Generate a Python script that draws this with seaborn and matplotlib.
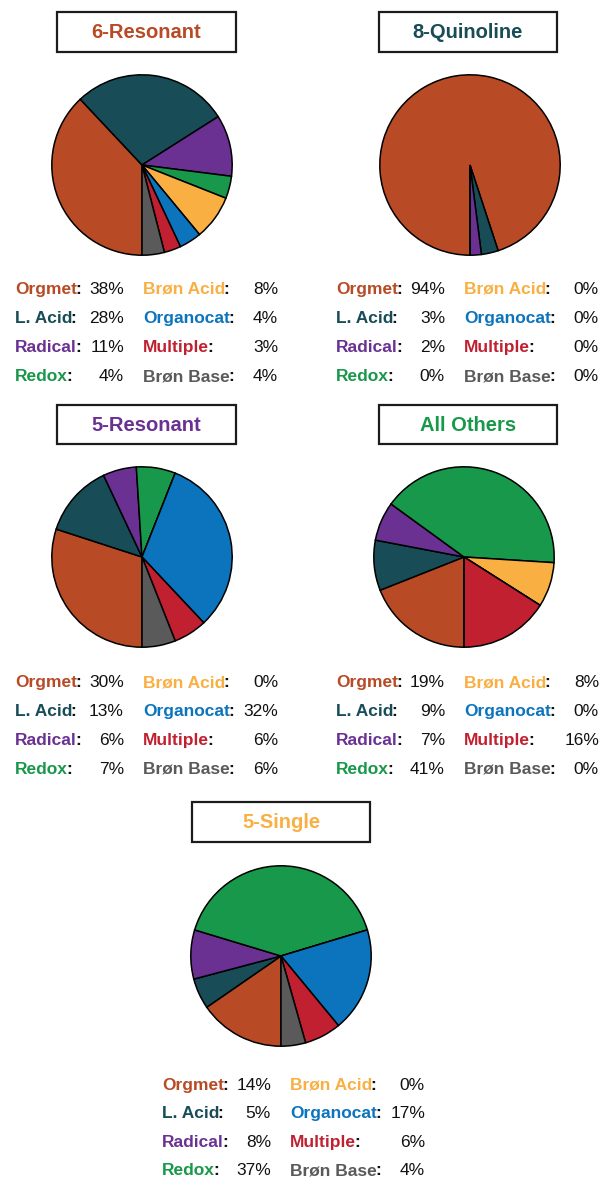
import matplotlib
matplotlib.use("Agg")
import matplotlib.pyplot as plt
import seaborn as sns
from matplotlib.patches import Rectangle

# ---------------- data ----------------
categories = ["Orgmet", "L. Acid", "Radical", "Redox",
              "Brøn Acid", "Organocat", "Multiple", "Brøn Base"]
category_colors = ["#B84A26", "#184C57", "#6A3193", "#18984A",
                   "#F9AF42", "#0C74BD", "#C0202F", "#5A5A5A"]

groups = ["6-Resonant", "8-Quinoline", "5-Resonant", "All Others", "5-Single"]
group_title_colors = ["#B84A26", "#184C57", "#6A3193", "#18984A", "#F9AF42"]

six_resonant = [38, 28, 11, 4, 8, 4, 3, 4]
eight_quinoline = [94, 3, 2, 0, 0, 0, 0, 0]
five_resonant = [30, 13, 6, 7, 0, 32, 6, 6]
all_others = [19, 9, 7, 41, 8, 0, 16, 0]
five_single = [14, 5, 8, 37, 0, 17, 6, 4]
group_values = [six_resonant, eight_quinoline, five_resonant, all_others, five_single]

# ---------------- style ----------------
sns.set_theme(style="white")
plt.rcParams["font.family"] = ["Liberation Sans", "DejaVu Sans"]
palette = sns.color_palette(category_colors)

W, H = 603, 1178
fig = plt.figure(figsize=(W / 100, H / 100), dpi=100)
fig.patch.set_facecolor("white")

overlay = fig.add_axes([0, 0, 1, 1])
overlay.set_xlim(0, W)
overlay.set_ylim(H, 0)
overlay.axis("off")
overlay.patch.set_alpha(0)

# layout (pixels): title box (x0, y0, w, h), pie center (cx, cy), radius, legend x0, legend baselines
layout = [
    dict(box=(57, 12, 179, 40), pie=(142, 165), r=92, lx=15, rows=(294, 323, 352, 381)),
    dict(box=(379, 12, 178, 40), pie=(470, 165), r=92, lx=336, rows=(294, 323, 352, 381)),
    dict(box=(57, 405, 179, 39), pie=(142, 557), r=92, lx=15, rows=(687, 716, 745, 774)),
    dict(box=(379, 405, 178, 39), pie=(464, 557), r=92, lx=336, rows=(687, 716, 745, 774)),
    dict(box=(192, 802, 178, 40), pie=(281, 956), r=92, lx=162, rows=(1090, 1118, 1147, 1175)),
]

FS = 12.5
for name, tcolor, vals, lay in zip(groups, group_title_colors, group_values, layout):
    bx, by, bw, bh = lay["box"]
    overlay.add_patch(Rectangle((bx, by), bw, bh, facecolor="white",
                                edgecolor="#1c1c1c", linewidth=1.6))
    overlay.text(bx + bw / 2, by + bh / 2 + 1, name, ha="center", va="center",
                 fontsize=14.5, fontweight="bold", color=tcolor)

    cx, cy = lay["pie"]
    r = lay["r"]
    pax = fig.add_axes([(cx - r) / W, 1 - (cy + r) / H, 2 * r / W, 2 * r / H])
    pax.pie(vals, colors=palette, startangle=-90, counterclock=False,
            radius=1.0,
            wedgeprops=dict(edgecolor="black", linewidth=1.1))
    pax.set_xlim(-1.02, 1.02)
    pax.set_ylim(-1.02, 1.02)
    pax.set_aspect("equal")
    pax.axis("off")

    lx = lay["lx"]
    for i, (cat, col, v) in enumerate(zip(categories, category_colors, vals)):
        colblock = i // 4
        row = i % 4
        y = lay["rows"][row]
        x_lab = lx + (128 if colblock else 0)
        x_val = lx + (263 if colblock else 109)
        t = overlay.text(x_lab, y, cat, ha="left", va="baseline", fontsize=FS,
                         fontweight="bold", color=col)
        overlay.annotate(":", xy=(1, y), xycoords=(t, "data"),
                         xytext=(-1.2, 0), textcoords="offset points",
                         ha="left", va="baseline", fontsize=FS,
                         fontweight="bold", color="#111111")
        overlay.text(x_val, y, f"{v}%", ha="right", va="baseline", fontsize=FS,
                     color="#111111")

fig.savefig("out.png", dpi=100, facecolor="white")
